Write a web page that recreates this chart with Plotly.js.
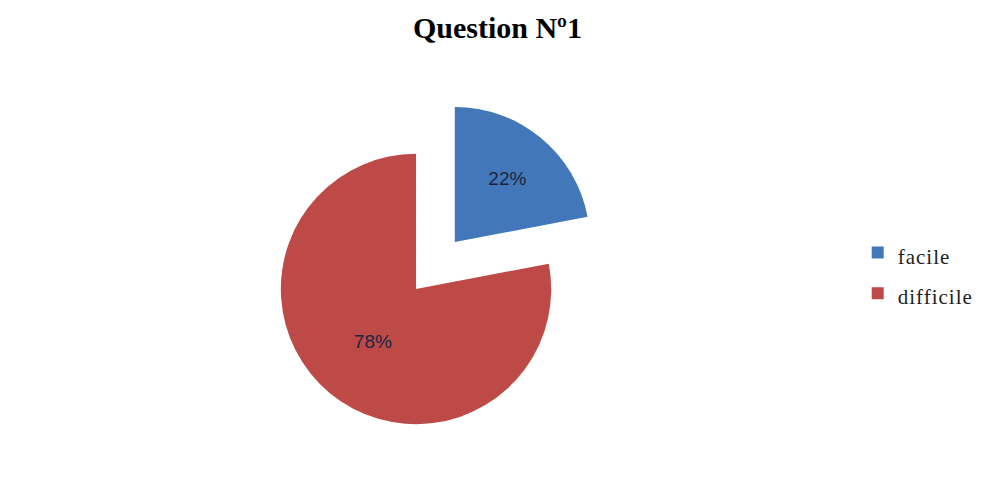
<!DOCTYPE html>
<html>
<head>
<meta charset="utf-8">
<script src="https://cdn.plot.ly/plotly-3.0.1.min.js"></script>
<style>html,body{margin:0;padding:0;background:#fff;}#chart{width:987px;height:493px;}</style>
</head>
<body>
<div id="chart"></div>
<script>
var categories = ["facile", "difficile"];
var values = [22, 78];
var sliceColors = ["#4277BA", "#BE4A47"];
var pulls = [0.45, 0];
var titleText = "Question Nº1";

// legend entries: same text, glyphs at reference size inside a taller legend line
var legendLabels = categories.map(function (c) {
  return '<span style="font-size:21px;letter-spacing:1px">' + c + '</span>';
});

var trace = {
  type: "pie",
  labels: legendLabels,
  values: values,
  sort: false,
  direction: "clockwise",
  rotation: 0,
  pull: pulls,
  marker: {colors: sliceColors, line: {width: 0}},
  textinfo: "percent",
  textposition: "inside",
  insidetextorientation: "horizontal",
  texttemplate: "%{percent:.0%}",
  insidetextfont: {family: "Liberation Sans, Arial, sans-serif", size: 19, color: "#1A2640"},
  hoverinfo: "percent",
  domain: {x: [0.2229, 0.6201], y: [0.0162, 0.8114]}
};

var layout = {
  width: 987,
  height: 493,
  margin: {l: 0, r: 0, t: 0, b: 0},
  paper_bgcolor: "#ffffff",
  title: {
    text: "<b>" + titleText + "</b>",
    font: {family: "Liberation Serif, Times New Roman, serif", size: 30, color: "#000000"},
    x: 0.504, xanchor: "center",
    y: 0.945, yanchor: "middle"
  },
  showlegend: true,
  legend: {
    x: 0.869, xanchor: "left",
    y: 0.446, yanchor: "middle",
    itemwidth: 30,
    font: {family: "Liberation Serif, Times New Roman, serif", size: 29, color: "#1E1E1E"},
    bgcolor: "rgba(0,0,0,0)"
  }
};

Plotly.newPlot("chart", [trace], layout, {displayModeBar: false, staticPlot: true});
</script>
</body>
</html>
